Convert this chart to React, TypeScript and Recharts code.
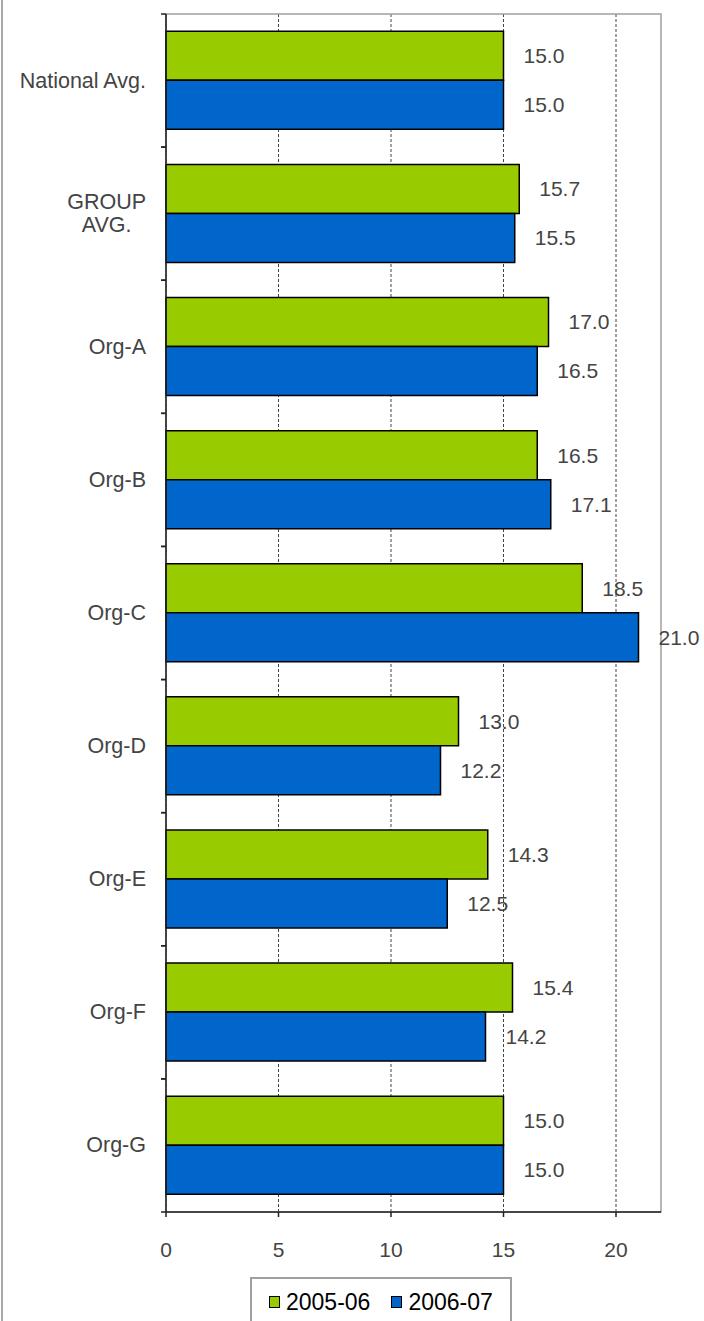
import React from 'react';
import { BarChart, Bar, XAxis, YAxis, CartesianGrid, LabelList, Legend, ReferenceArea } from 'recharts';

const categories = ['National Avg.', 'GROUP AVG.', 'Org-A', 'Org-B', 'Org-C', 'Org-D', 'Org-E', 'Org-F', 'Org-G'];
const categoryLines = [
  ['National Avg.'],
  ['GROUP', 'AVG.'],
  ['Org-A'],
  ['Org-B'],
  ['Org-C'],
  ['Org-D'],
  ['Org-E'],
  ['Org-F'],
  ['Org-G'],
];
const series2005 = [15.0, 15.7, 17.0, 16.5, 18.5, 13.0, 14.3, 15.4, 15.0];
const series2006 = [15.0, 15.5, 16.5, 17.1, 21.0, 12.2, 12.5, 14.2, 15.0];
const seriesNames = ['2005-06', '2006-07'];
const seriesColors = ['#99CC00', '#0066CC'];
const xTicks = [0, 5, 10, 15, 20];
const xDomain = [0, 22];

const data = categories.map((c, i) => ({ name: c, a: series2005[i], b: series2006[i] }));

const FONT = "'Liberation Sans', Arial, sans-serif";
const LABEL_SIZE = 21.5;

function measure(text: string, size: number): number {
  try {
    const c = document.createElement('canvas').getContext('2d');
    if (c) {
      c.font = `${size}px 'Liberation Sans'`;
      return c.measureText(text).width;
    }
  } catch (e) {}
  return text.length * size * 0.6;
}

const YTick = (props: any) => {
  const { x, y, payload, index } = props;
  const half = payload && typeof payload.offset === 'number' && payload.offset > 0 ? payload.offset : 66.5;
  const lines: string[] = categoryLines[index] ?? [String(payload.value)];
  const gap = 20;
  const lineH = 23;
  const startY = y - ((lines.length - 1) * lineH) / 2;
  let anchor: 'end' | 'middle' = 'end';
  let tx = x - gap;
  if (lines.length > 1) {
    const maxW = Math.max(...lines.map((l) => measure(l, LABEL_SIZE)));
    anchor = 'middle';
    tx = x - gap - maxW / 2;
  }
  return (
    <g>
      <line x1={x} x2={x - 5} y1={y - half} y2={y - half} stroke="#222" strokeWidth={1.5} />
      <line x1={x} x2={x - 5} y1={y + half} y2={y + half} stroke="#222" strokeWidth={1.5} />
      <text
        x={tx}
        y={startY}
        textAnchor={anchor}
        fill="#444"
        fontSize={LABEL_SIZE}
        fontFamily={FONT}
        dominantBaseline="central"
      >
        {lines.map((l, i) => (
          <tspan key={i} x={tx} dy={i === 0 ? 0 : lineH}>
            {l}
          </tspan>
        ))}
      </text>
    </g>
  );
};

const LegendBox = () => (
  <div
    style={{
      boxSizing: 'border-box',
      width: 262,
      height: 44,
      borderTop: '2px solid #a0a0a0',
      borderLeft: '2px solid #a0a0a0',
      borderRight: '2px solid #a0a0a0',
      display: 'flex',
      alignItems: 'center',
      paddingLeft: 17,
      paddingTop: 4,
      fontFamily: FONT,
      fontSize: 23,
      color: '#000',
      background: '#fff',
      whiteSpace: 'nowrap',
    }}
  >
    {seriesNames.map((n, i) => (
      <span key={n} style={{ display: 'flex', alignItems: 'center', marginRight: 21, flexShrink: 0 }}>
        <span
          style={{
            display: 'inline-block',
            width: 9,
            height: 10,
            background: seriesColors[i],
            border: '1.5px solid #000',
            marginRight: 6,
            flexShrink: 0,
          }}
        />
        {n}
      </span>
    ))}
  </div>
);

export default function App() {
  return (
    <div style={{ position: 'absolute', left: 0, top: 0, width: 704, height: 1321, background: '#fff' }}>
      <div style={{ position: 'absolute', left: 1, top: 0, width: 2, height: 1321, background: '#a8a8a8' }} />
      <BarChart
        width={704}
        height={1321}
        data={data}
        layout="vertical"
        margin={{ top: 14, right: 43, left: 0, bottom: 0 }}
        barGap={0}
        barCategoryGap="13%"
      >
        <CartesianGrid horizontal={false} stroke="#444" strokeDasharray="3 2" syncWithTicks />
        <ReferenceArea x1={0} x2={22} fill="none" stroke="#a0a0a0" strokeWidth={1.5} />
        <XAxis
          type="number"
          domain={xDomain}
          ticks={xTicks}
          height={65}
          tickSize={5}
          tickMargin={25}
          axisLine={{ stroke: '#222', strokeWidth: 1.5 }}
          tickLine={{ stroke: '#222', strokeWidth: 1.5 }}
          tick={{ fill: '#444', fontSize: 21, fontFamily: FONT }}
        />
        <YAxis
          type="category"
          dataKey="name"
          width={166}
          tickSize={0}
          tickMargin={0}
          tickLine={false}
          interval={0}
          axisLine={{ stroke: '#222', strokeWidth: 1.5 }}
          tick={<YTick />}
        />
        <Legend
          verticalAlign="bottom"
          content={<LegendBox />}
          wrapperStyle={{ left: 250, width: 262, height: 44 }}
        />
        <Bar dataKey="a" name={seriesNames[0]} fill={seriesColors[0]} stroke="#000" strokeWidth={1.5} isAnimationActive={false}>
          <LabelList
            dataKey="a"
            position="right"
            offset={20}
            fill="#444"
            fontSize={21}
            fontFamily={FONT}
            formatter={(v: any) => Number(v).toFixed(1)}
          />
        </Bar>
        <Bar dataKey="b" name={seriesNames[1]} fill={seriesColors[1]} stroke="#000" strokeWidth={1.5} isAnimationActive={false}>
          <LabelList
            dataKey="b"
            position="right"
            offset={20}
            fill="#444"
            fontSize={21}
            fontFamily={FONT}
            formatter={(v: any) => Number(v).toFixed(1)}
          />
        </Bar>
      </BarChart>
    </div>
  );
}
